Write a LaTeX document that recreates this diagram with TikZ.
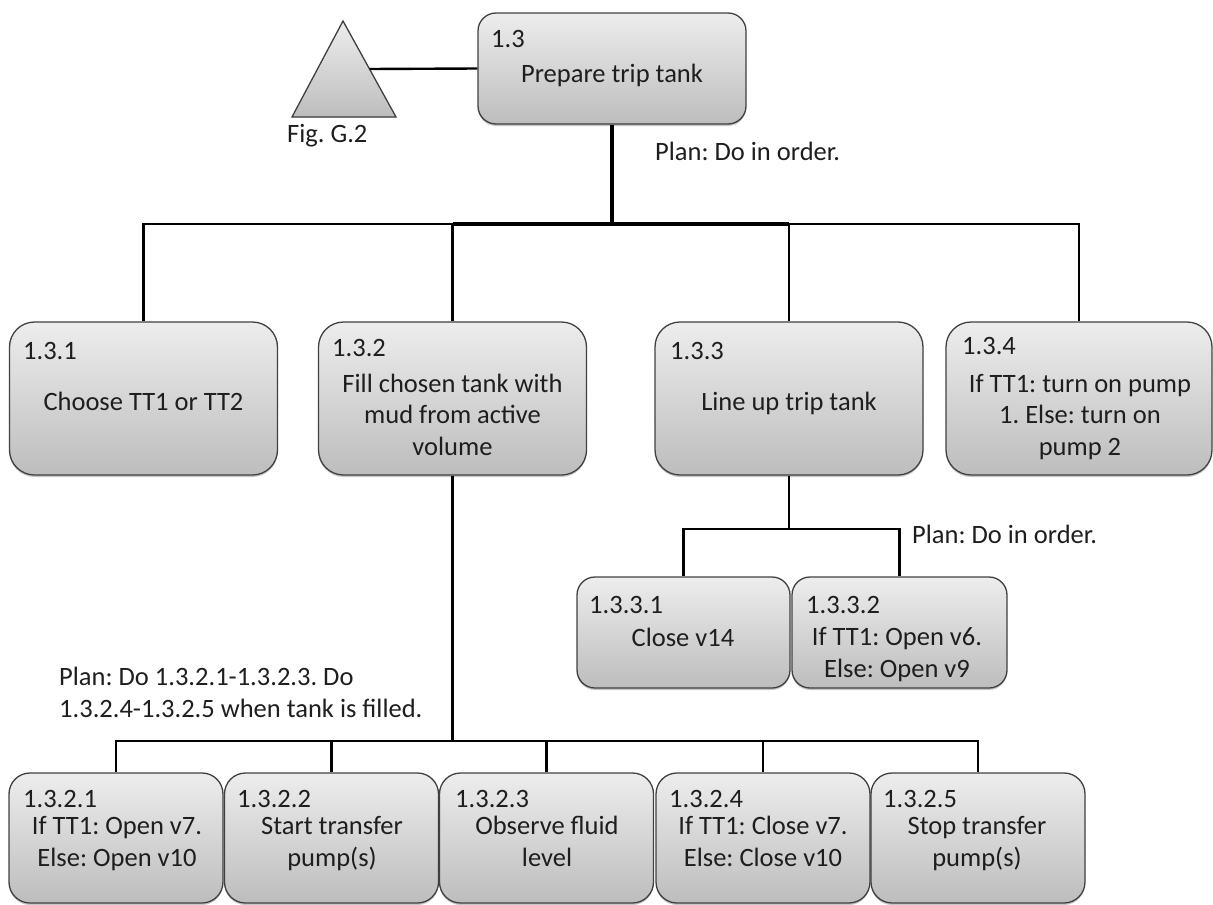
\documentclass[tikz,border=0pt]{standalone}
\usepackage{fontspec}
\setmainfont{Carlito}
\frenchspacing
\usetikzlibrary{shadows}
\definecolor{boxtop}{HTML}{EDEDED}
\definecolor{boxbot}{HTML}{BDBDBD}
\definecolor{boxline}{HTML}{404040}
\definecolor{ink}{HTML}{1E1E1E}

\begin{document}
\begin{tikzpicture}[x=1pt,y=-1pt,
  taskbox/.style={draw=boxline, line width=1.3pt, rounded corners=#1,
    top color=boxtop, bottom color=boxbot, inner sep=0pt,
    drop shadow={shadow xshift=0pt, shadow yshift=-2pt, opacity=0.22, fill=black}},
  bigbox/.style={taskbox=25pt, minimum width=268pt, minimum height=153pt},
  topbox/.style={taskbox=18pt, minimum width=268pt, minimum height=111pt},
  midbox/.style={taskbox=18pt, minimum height=111pt},
  lowbox/.style={taskbox=21pt, minimum width=214pt, minimum height=130pt},
  num/.style={anchor=base west, inner sep=0pt, text=ink,
    font=\fontsize{26.5}{31.5}\selectfont},
  % multi-line texts are placed by the baseline of their last line
  txt/.style={anchor=base, align=center, inner sep=0pt, text=ink,
    font=\fontsize{26.5}{31.5}\selectfont},
  plan/.style={anchor=base west, align=left, inner sep=0pt, text=ink,
    font=\fontsize{26.5}{31.5}\selectfont},
  wire/.style={draw=black, line width=2.4pt},
  trunk/.style={draw=black, line width=3.2pt}
]
\useasboundingbox (0,0) rectangle (1213,905);

% ---- top level task and its reference triangle
\fill[top color=boxtop, bottom color=boxbot, draw=boxline, line width=1.3pt]
  (343,21) -- (396,117) -- (292,117) -- cycle;
\coordinate (tri) at (369.5,69);
\node[plan] (figref) at (287,142) {Fig. G.2};

\node[topbox] (b13) at (612,68.5) {};
\node[num] (b13n) at (491,47) {1.3};
\node[txt] (b13t) at (612,82) {Prepare trip tank};
\node[plan] (plan13) at (655,160) {Plan: Do in order.};

% ---- second level
\node[bigbox] (b131) at (143.5,398.5) {};
\node[bigbox] (b132) at (452.5,398.5) {};
\node[bigbox] (b133) at (789,398.5) {};
\node[bigbox, minimum width=266pt] (b134) at (1079,398.5) {};

\node[num] (b131n) at (23,359) {1.3.1};
\node[txt] (b131t) at (143.5,410) {Choose TT1 or TT2};
\node[num] (b132n) at (332,356) {1.3.2};
\node[txt] (b132t) at (452.5,455) {Fill chosen tank with\\mud from active\\volume};
\node[num] (b133n) at (670,359) {1.3.3};
\node[txt] (b133t) at (789,410) {Line up trip tank};
\node[num] (b134n) at (962,354) {1.3.4};
\node[txt] (b134t) at (1080,455) {If TT1: turn on pump\\1. Else: turn on\\pump 2};

% ---- children of 1.3.3
\node[midbox, minimum width=213pt] (b1331) at (683.5,632.5) {};
\node[midbox, minimum width=215pt] (b1332) at (899.5,632.5) {};
\node[num] (b1331n) at (589,613) {1.3.3.1};
\node[txt] (b1331t) at (683,646) {Close v14};
\node[num] (b1332n) at (806,613) {1.3.3.2};
\node[txt] (b1332t) at (897,677) {If TT1: Open v6.\\Else: Open v9};
\node[plan] (plan133) at (912,543) {Plan: Do in order.};

% ---- children of 1.3.2
\node[lowbox] (b1321) at (116,838) {};
\node[lowbox] (b1322) at (331.5,838) {};
\node[lowbox] (b1323) at (546.5,838) {};
\node[lowbox] (b1324) at (763,838) {};
\node[lowbox] (b1325) at (978,838) {};
\node[num] (b1321n) at (23,807) {1.3.2.1};
\node[txt] (b1321t) at (117,866) {If TT1: Open v7.\\Else: Open v10};
\node[num] (b1322n) at (237,807) {1.3.2.2};
\node[txt] (b1322t) at (332,866) {Start transfer\\pump(s)};
\node[num] (b1323n) at (455,807) {1.3.2.3};
\node[txt] (b1323t) at (547,866) {Observe fluid\\level};
\node[num] (b1324n) at (669,807) {1.3.2.4};
\node[txt] (b1324t) at (763,866) {If TT1: Close v7.\\Else: Close v10};
\node[num] (b1325n) at (883,807) {1.3.2.5};
\node[txt] (b1325t) at (977,866) {Stop transfer\\pump(s)};
\node[plan] (plan132) at (59,717) {Plan: Do 1.3.2.1-1.3.2.3. Do\\1.3.2.4-1.3.2.5 when tank is filled.};

% ---- connectors
\draw[wire] (tri) -- (b13.west);

\coordinate (j13) at (612,224);
\draw[trunk] (b13.south) -- (j13);
\foreach \c in {b131,b132,b133,b134}
  \draw[wire] (j13) -| (\c.north);
\draw[trunk] (j13 -| b132.north) -- (j13 -| b133.north);

\coordinate (j133) at (789,529);
\draw[wire] (b133.south) -- (j133);
\foreach \c in {b1331,b1332}
  \draw[wire] (j133) -| (\c.north);

\coordinate (j132) at (452.5,741);
\draw[trunk] (b132.south) -- (j132);
\foreach \c in {b1321,b1322,b1323,b1324,b1325}
  \draw[wire] (j132) -| (\c.north);
\end{tikzpicture}
\end{document}
